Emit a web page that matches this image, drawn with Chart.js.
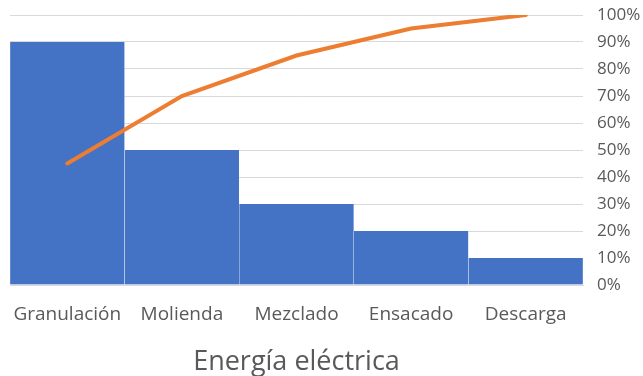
<!DOCTYPE html>
<html>
<head>
<meta charset="utf-8">
<script src="https://cdn.jsdelivr.net/npm/chart.js@4"></script>
<style>
  html, body { margin: 0; padding: 0; background: #fff; }
  #wrap { width: 643px; height: 376px; }
</style>
</head>
<body>
<div id="wrap"><canvas id="pareto"></canvas></div>
<script>
const categories = ['Granulación', 'Molienda', 'Mezclado', 'Ensacado', 'Descarga'];
const barValues = [90, 50, 30, 20, 10];
const cumulativePct = [45, 70, 85, 95, 100];
const pctTicks = [0, 10, 20, 30, 40, 50, 60, 70, 80, 90, 100];

const textGray = '#595959';
const font = "'Open Sans', sans-serif";

new Chart(document.getElementById('pareto').getContext('2d'), {
  data: {
    labels: categories,
    datasets: [
      {
        type: 'line',
        data: cumulativePct,
        borderColor: '#ED7D31',
        borderWidth: 4,
        pointRadius: 0,
        tension: 0,
        borderCapStyle: 'round',
        order: 0
      },
      {
        type: 'bar',
        data: barValues,
        backgroundColor: '#4472C4',
        borderColor: 'rgba(255,255,255,0.5)',
        borderWidth: { left: 0.5, right: 0.5, top: 0, bottom: 0 },
        categoryPercentage: 1,
        barPercentage: 1,
        order: 1
      }
    ]
  },
  options: {
    responsive: true,
    maintainAspectRatio: false,
    animation: false,
    layout: { padding: { left: 10, top: 15, right: 0, bottom: 0 } },
    plugins: {
      legend: { display: false },
      tooltip: { enabled: false },
      title: {
        display: true,
        text: 'Energía eléctrica',
        position: 'bottom',
        fullSize: false,
        color: textGray,
        font: { family: font, size: 27, weight: 'normal', lineHeight: 1 },
        padding: { top: 22, bottom: 0 }
      }
    },
    scales: {
      x: {
        grid: { display: false, drawTicks: false },
        border: { color: '#d9d9d9' },
        ticks: {
          color: textGray,
          font: { family: font, size: 19 },
          maxRotation: 0,
          autoSkip: false,
          padding: 18
        },
        afterFit: (axis) => {
          axis.height = 42;
          axis.paddingLeft = 0;
          axis.paddingRight = 0;
        }
      },
      y: {
        position: 'right',
        min: 0,
        max: 100,
        afterBuildTicks: (axis) => { axis.ticks = pctTicks.map(v => ({ value: v })); },
        grid: { color: '#d9d9d9', drawTicks: false },
        border: { display: false },
        ticks: {
          color: textGray,
          font: { family: font, size: 17 },
          padding: 14,
          callback: (v) => v + '%'
        },
        afterFit: (axis) => {
          axis.width = 60;
          axis.paddingTop = 0;
          axis.paddingBottom = 0;
        }
      }
    }
  }
});
</script>
</body>
</html>
